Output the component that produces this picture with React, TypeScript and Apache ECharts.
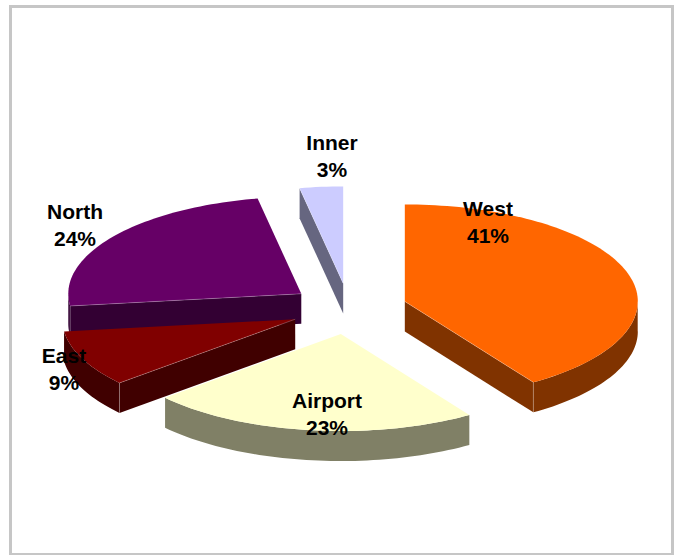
import React, { useEffect, useRef } from 'react';
import * as echarts from 'echarts';

const categories = ['West', 'Airport', 'East', 'North', 'Inner'];
const values = [40.7, 22.9, 9.4, 24.0, 3.0];
const topColors = ['#FF6600', '#FFFFCC', '#800000', '#660066', '#CCCCFF'];
const sideColors = ['#803300', '#808066', '#400000', '#330033', '#666680'];
// label block centres (px)
const labelCenters = [
  [488, 222],
  [327, 414],
  [64, 369],
  [75, 225],
  [332, 156],
];

const CX = 348.7;
const CY = 308.8;
const RX = 233;
const RY = 97;
const DEPTH = 30;
const EXPLODE_X = 58.6;
const EXPLODE_Y = 25.5;
const EDGE = 'rgba(255,255,255,0.4)';

export default function App() {
  const ref = useRef<HTMLDivElement>(null);
  useEffect(() => {
    const chart = echarts.init(ref.current as HTMLDivElement, null, { renderer: 'svg' });
    const total = values.reduce((a, b) => a + b, 0);
    const starts: number[] = [];
    let acc = 0;
    values.forEach((v) => {
      starts.push((acc / total) * 2 * Math.PI);
      acc += v;
    });
    const mids = values.map((v, i) => starts[i] + (v / total) * Math.PI);
    const order = mids.map((m, i) => ({ i, z: -Math.cos(m) })).sort((a, b) => a.z - b.z);
    const rank: number[] = [];
    order.forEach((o, r) => (rank[o.i] = r));

    const renderItem = (params: any, api: any) => {
      const i = params.dataIndex;
      const v = api.value(1);
      const a1 = starts[i];
      const a2 = a1 + (v / total) * 2 * Math.PI;
      const am = (a1 + a2) / 2;
      const ax = CX + EXPLODE_X * Math.sin(am);
      const ay = CY - EXPLODE_Y * Math.cos(am);
      const pt = (t: number, h = 0) => [ax + RX * Math.sin(t), ay - RY * Math.cos(t) + h];
      const arc = (t1: number, t2: number, h = 0) => {
        const n = Math.max(2, Math.ceil((t2 - t1) / (Math.PI / 120)));
        const pts: number[][] = [];
        for (let k = 0; k <= n; k++) pts.push(pt(t1 + ((t2 - t1) * k) / n, h));
        return pts;
      };
      const base = rank[i] * 10;
      const children: any[] = [];
      const edgeLines: number[][][] = [];
      const radial = (a: number) => {
        children.push({
          type: 'polygon',
          shape: { points: [[ax, ay], pt(a), pt(a, DEPTH), [ax, ay + DEPTH]] },
          style: { fill: sideColors[i] },
          z2: base + 1,
        });
        edgeLines.push([[ax, ay], pt(a)]);
        edgeLines.push([pt(a), pt(a, DEPTH)]);
      };
      if (Math.sin(a1) < -1e-6) radial(a1);
      if (Math.sin(a2) > 1e-6) radial(a2);
      const c1 = Math.max(a1, Math.PI / 2);
      const c2 = Math.min(a2, 1.5 * Math.PI);
      if (c2 > c1) {
        const top = arc(c1, c2);
        const bot = arc(c1, c2, DEPTH).reverse();
        children.push({
          type: 'polygon',
          shape: { points: top.concat(bot) },
          style: { fill: sideColors[i] },
          z2: base + 2,
        });
        if (c1 > a1) edgeLines.push([pt(c1), pt(c1, DEPTH)]);
      }
      children.push({
        type: 'polygon',
        shape: { points: [[ax, ay], ...arc(a1, a2)] },
        style: { fill: topColors[i] },
        z2: base + 3,
      });
      edgeLines.forEach((pts) =>
        children.push({
          type: 'polyline',
          shape: { points: pts },
          style: { stroke: EDGE, lineWidth: 0.6, fill: 'none' },
          z2: base + 4,
        })
      );
      children.push({
        type: 'text',
        x: labelCenters[i][0],
        y: labelCenters[i][1],
        style: {
          text: `${categories[i]}\n${Math.round((v / total) * 100)}%`,
          fill: '#000',
          fontFamily: '"Liberation Sans", Arial, sans-serif',
          fontWeight: 'bold',
          fontSize: 21,
          lineHeight: 27,
          align: 'center',
          verticalAlign: 'middle',
        },
        z2: 200,
      });
      return { type: 'group', children };
    };

    chart.setOption({
      animation: false,
      graphic: [
        {
          type: 'rect',
          z: 0,
          shape: { x: 10.5, y: 6.5, width: 662, height: 548 },
          style: { fill: 'transparent', stroke: '#c6c6c6', lineWidth: 3 },
        },
      ],
      series: [
        {
          type: 'custom',
          coordinateSystem: 'none',
          z: 2,
          renderItem,
          data: categories.map((c, i) => ({ name: c, value: [i, values[i]] })),
        },
      ],
    });
    return () => chart.dispose();
  }, []);
  return (
    <div
      ref={ref}
      style={{ position: 'fixed', left: 0, top: 0, width: 680, height: 555, background: '#fff' }}
    />
  );
}
